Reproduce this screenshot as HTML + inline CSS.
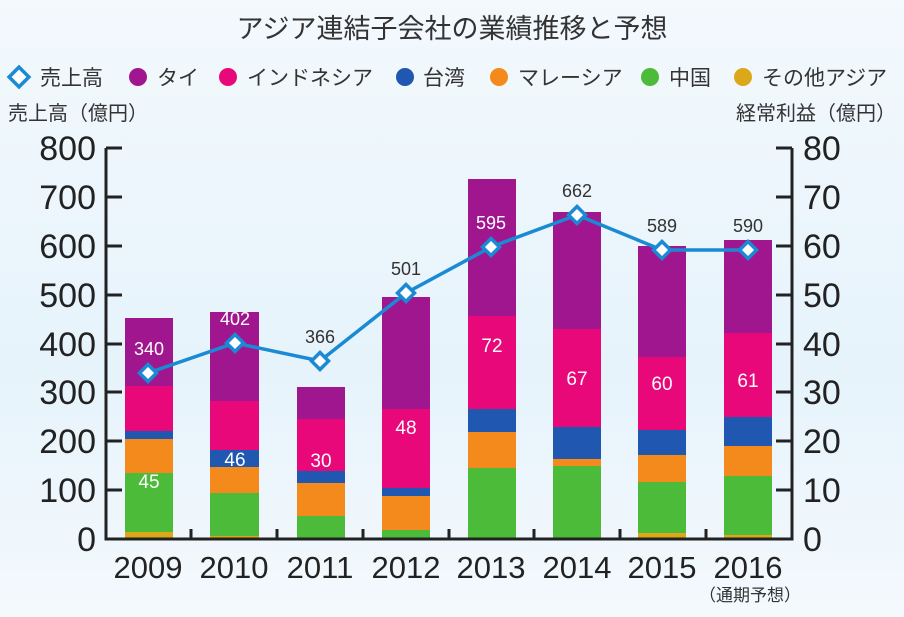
<!DOCTYPE html>
<html><head><meta charset="utf-8"><style>
body{margin:0;width:904px;height:617px;overflow:hidden;background:linear-gradient(180deg,#f3f9fd 0%,#e6f3fb 60%,#f4f9fd 100%);}
svg{display:block;font-family:"Liberation Sans","Noto Sans CJK JP",sans-serif;}
</style></head><body>
<svg width="904" height="617" viewBox="0 0 904 617">
<text x="452" y="38" text-anchor="middle" font-size="27" fill="#333">アジア連結子会社の業績推移と予想</text>
<g font-size="21" fill="#333">
<rect x="12" y="70" width="14" height="14" transform="rotate(45 19 77)" fill="#fff" stroke="#1a8ad4" stroke-width="3.5"/>
<text x="40" y="85">売上高</text>
<circle cx="138" cy="77" r="9" fill="#a0168e"/><text x="157" y="85">タイ</text>
<circle cx="228" cy="77" r="9" fill="#e8087a"/><text x="247" y="85">インドネシア</text>
<circle cx="405" cy="77" r="9" fill="#2057b0"/><text x="423" y="85">台湾</text>
<circle cx="499" cy="77" r="9" fill="#f58a1c"/><text x="518" y="85">マレーシア</text>
<circle cx="650" cy="77" r="9" fill="#4cbb3a"/><text x="669" y="85">中国</text>
<circle cx="743" cy="77" r="9" fill="#dba81a"/><text x="762" y="85">その他アジア</text>
</g>
<text x="8" y="120" font-size="20" fill="#333">売上高（億円）</text>
<text x="896" y="120" font-size="20" fill="#333" text-anchor="end">経常利益（億円）</text>
<g font-size="34" fill="#222" text-anchor="end">
<text x="96" y="160">800</text><text x="96" y="209">700</text><text x="96" y="258">600</text><text x="96" y="307">500</text><text x="96" y="356">400</text><text x="96" y="404">300</text><text x="96" y="453">200</text><text x="96" y="502">100</text><text x="96" y="551">0</text>
</g>
<g font-size="34" fill="#222">
<text x="803" y="160">80</text><text x="803" y="209">70</text><text x="803" y="258">60</text><text x="803" y="307">50</text><text x="803" y="356">40</text><text x="803" y="404">30</text><text x="803" y="453">20</text><text x="803" y="502">10</text><text x="803" y="551">0</text>
</g>
<g id="bars">
<!-- 2009 -->
<rect x="125" y="318" width="48" height="68" fill="#a0168e"/><rect x="125" y="386" width="48" height="45" fill="#e8087a"/><rect x="125" y="431" width="48" height="8" fill="#2057b0"/><rect x="125" y="439" width="48" height="34" fill="#f58a1c"/><rect x="125" y="473" width="48" height="59" fill="#4cbb3a"/><rect x="125" y="532" width="48" height="8" fill="#dba81a"/>
<!-- 2010 -->
<rect x="210" y="312" width="49" height="89" fill="#a0168e"/><rect x="210" y="401" width="49" height="49" fill="#e8087a"/><rect x="210" y="450" width="49" height="17" fill="#2057b0"/><rect x="210" y="467" width="49" height="26" fill="#f58a1c"/><rect x="210" y="493" width="49" height="43" fill="#4cbb3a"/><rect x="210" y="536" width="49" height="4" fill="#dba81a"/>
<!-- 2011 -->
<rect x="297" y="387" width="48" height="32" fill="#a0168e"/><rect x="297" y="419" width="48" height="52" fill="#e8087a"/><rect x="297" y="471" width="48" height="12" fill="#2057b0"/><rect x="297" y="483" width="48" height="33" fill="#f58a1c"/><rect x="297" y="516" width="48" height="24" fill="#4cbb3a"/>
<!-- 2012 -->
<rect x="382" y="297" width="48" height="112" fill="#a0168e"/><rect x="382" y="409" width="48" height="79" fill="#e8087a"/><rect x="382" y="488" width="48" height="8" fill="#2057b0"/><rect x="382" y="496" width="48" height="34" fill="#f58a1c"/><rect x="382" y="530" width="48" height="10" fill="#4cbb3a"/>
<!-- 2013 -->
<rect x="468" y="179" width="48" height="137" fill="#a0168e"/><rect x="468" y="316" width="48" height="93" fill="#e8087a"/><rect x="468" y="409" width="48" height="23" fill="#2057b0"/><rect x="468" y="432" width="48" height="36" fill="#f58a1c"/><rect x="468" y="468" width="48" height="72" fill="#4cbb3a"/>
<!-- 2014 -->
<rect x="553" y="212" width="48" height="117" fill="#a0168e"/><rect x="553" y="329" width="48" height="98" fill="#e8087a"/><rect x="553" y="427" width="48" height="32" fill="#2057b0"/><rect x="553" y="459" width="48" height="7" fill="#f58a1c"/><rect x="553" y="466" width="48" height="74" fill="#4cbb3a"/>
<!-- 2015 -->
<rect x="638" y="246" width="48" height="111" fill="#a0168e"/><rect x="638" y="357" width="48" height="73" fill="#e8087a"/><rect x="638" y="430" width="48" height="25" fill="#2057b0"/><rect x="638" y="455" width="48" height="27" fill="#f58a1c"/><rect x="638" y="482" width="48" height="51" fill="#4cbb3a"/><rect x="638" y="533" width="48" height="7" fill="#dba81a"/>
<!-- 2016 -->
<rect x="724" y="240" width="48" height="93" fill="#a0168e"/><rect x="724" y="333" width="48" height="84" fill="#e8087a"/><rect x="724" y="417" width="48" height="29" fill="#2057b0"/><rect x="724" y="446" width="48" height="30" fill="#f58a1c"/><rect x="724" y="476" width="48" height="59" fill="#4cbb3a"/><rect x="724" y="535" width="48" height="5" fill="#dba81a"/>
</g>
<g font-size="19" fill="#fff" text-anchor="middle">
<text x="149" y="488">45</text><text x="235" y="466">46</text><text x="321" y="467">30</text><text x="406" y="434">48</text><text x="492" y="352">72</text><text x="577" y="385">67</text><text x="662" y="390">60</text><text x="748" y="387">61</text>
</g>
<g stroke="#222" stroke-width="3" fill="none">
<path d="M106 148 V539 H792 V148"/>
<path d="M106 148 H122 M106 197 H122 M106 246 H122 M106 295 H122 M106 344 H122 M106 392 H122 M106 441 H122 M106 490 H122"/>
<path d="M776 148 H792 M776 197 H792 M776 246 H792 M776 295 H792 M776 344 H792 M776 392 H792 M776 441 H792 M776 490 H792"/>
<path d="M191 539 V529 M277 539 V529 M363 539 V529 M449 539 V529 M534 539 V529 M620 539 V529 M706 539 V529"/>
</g>
<g font-size="31" fill="#222" text-anchor="middle">
<text x="148" y="578">2009</text><text x="234" y="578">2010</text><text x="320" y="578">2011</text><text x="406" y="578">2012</text><text x="491" y="578">2013</text><text x="577" y="578">2014</text><text x="662" y="578">2015</text><text x="748" y="578">2016</text>
</g>
<text x="750" y="601" font-size="17" fill="#333" text-anchor="middle">（通期予想）</text>
<polyline points="148,373 235,343 320,361 406,293 491,247 577,215 662,250 748,250" fill="none" stroke="#1a8ad4" stroke-width="3.5"/>
<g fill="#fff" stroke="#1a8ad4" stroke-width="3.5">
<rect x="142" y="367" width="12" height="12" transform="rotate(45 148 373)"/>
<rect x="229" y="337" width="12" height="12" transform="rotate(45 235 343)"/>
<rect x="314" y="355" width="12" height="12" transform="rotate(45 320 361)"/>
<rect x="400" y="287" width="12" height="12" transform="rotate(45 406 293)"/>
<rect x="485" y="241" width="12" height="12" transform="rotate(45 491 247)"/>
<rect x="571" y="209" width="12" height="12" transform="rotate(45 577 215)"/>
<rect x="656" y="244" width="12" height="12" transform="rotate(45 662 250)"/>
<rect x="742" y="244" width="12" height="12" transform="rotate(45 748 250)"/>
</g>
<g font-size="18" text-anchor="middle">
<text x="149" y="355" fill="#fff">340</text><text x="235" y="325" fill="#fff">402</text><text x="320" y="343" fill="#333">366</text><text x="406" y="275" fill="#333">501</text><text x="491" y="229" fill="#fff">595</text><text x="577" y="197" fill="#333">662</text><text x="662" y="232" fill="#333">589</text><text x="748" y="232" fill="#333">590</text>
</g>
</svg>
</body></html>
